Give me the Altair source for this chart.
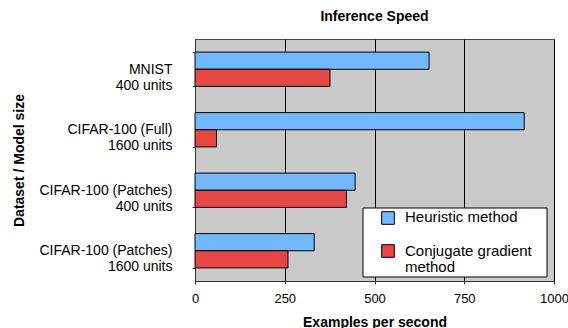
import altair as alt
import pandas as pd

# ---- data ----
category_keys = ["MNIST |400 units", "CIFAR-100 (Full)|1600 units",
                 "CIFAR-100 (Patches)|400 units ", "CIFAR-100 (Patches)|1600 units"]
series = ["Heuristic method", "Conjugate gradient method"]
heuristic = [652, 917, 446, 332]
conjugate = [376, 60, 422, 259]
x_ticks = [0, 250, 500, 750, 1000]
colors = ["#74B9FF", "#E64646"]

rows = []
for k, h, c in zip(category_keys, heuristic, conjugate):
    rows.append({"cat": k, "series": series[0], "value": h})
    rows.append({"cat": k, "series": series[1], "value": c})
df = pd.DataFrame(rows)

FONT = "Liberation Sans"
W, H = 359, 242

bars = alt.Chart(df).mark_bar(stroke="black", strokeWidth=1).encode(
    x=alt.X("value:Q",
            scale=alt.Scale(domain=[0, 1000], nice=False, zero=True),
            axis=alt.Axis(values=x_ticks, format="d", title="Examples per second",
                          grid=True, gridColor="black", gridWidth=1, gridOpacity=1,
                          domainColor="#333333", tickColor="#333333", tickSize=3,
                          labelFlush=False,
                          labelPadding=8, labelFontSize=13, labelColor="black",
                          titleFontSize=14, titleFontWeight="bold",
                          titleY=45, titleBaseline="alphabetic")),
    y=alt.Y("cat:N", sort=category_keys,
            scale=alt.Scale(paddingInner=0.433, paddingOuter=0.2165),
            axis=alt.Axis(title="Dataset / Model size",
                          labelExpr="split(datum.label, '|')",
                          labelFontSize=14, labelLineHeight=16, labelColor="black",
                          labelPadding=20, tickBand="extent", tickSize=3,
                          tickColor="#333333", domainColor="#333333",
                          titleFontSize=14, titleFontWeight="bold",
                          titleX=-176, titleY=H / 2, titleAngle=270,
                          titleAlign="center", titleBaseline="middle")),
    yOffset=alt.YOffset("series:N", sort=series,
                        scale=alt.Scale(paddingInner=0, paddingOuter=0)),
    color=alt.Color("series:N", sort=series,
                    scale=alt.Scale(domain=series, range=colors), legend=None),
)

one = alt.Data(values=[{}])

legend_box = alt.Chart(one).mark_rect(fill="white", stroke="black", strokeWidth=1).encode(
    x=alt.value(168), x2=alt.value(352), y=alt.value(169), y2=alt.value(238))

sym_y = [179, 212]
txt_y = [171, 205]
layers = [bars, legend_box]
for i, s in enumerate(series):
    layers.append(alt.Chart(one).mark_square(size=160, fill=colors[i], stroke="black",
                                              strokeWidth=1, opacity=1).encode(
        x=alt.value(193), y=alt.value(sym_y[i])))
    text = [s] if i == 0 else s.rsplit(" ", 1)
    layers.append(alt.Chart(one).mark_text(text=text, align="left", baseline="top",
                                           fontSize=15, lineHeight=16, font=FONT,
                                           color="black").encode(
        x=alt.value(210), y=alt.value(txt_y[i])))

chart = alt.layer(*layers).properties(
    width=W, height=H,
    title=alt.TitleParams("Inference Speed", fontSize=14, fontWeight="bold",
                          font=FONT, anchor="middle", baseline="alphabetic", offset=-3),
    autosize=alt.AutoSizeParams(type="none"),
    padding={"left": 195, "top": 39, "right": 14, "bottom": 47},
).configure(font=FONT).configure_view(
    fill="#CACACA", stroke="#444444", strokeWidth=1
).configure_axis(labelFont=FONT, titleFont=FONT)

chart.save("out.html", embed_options={"renderer": "svg", "actions": False})
